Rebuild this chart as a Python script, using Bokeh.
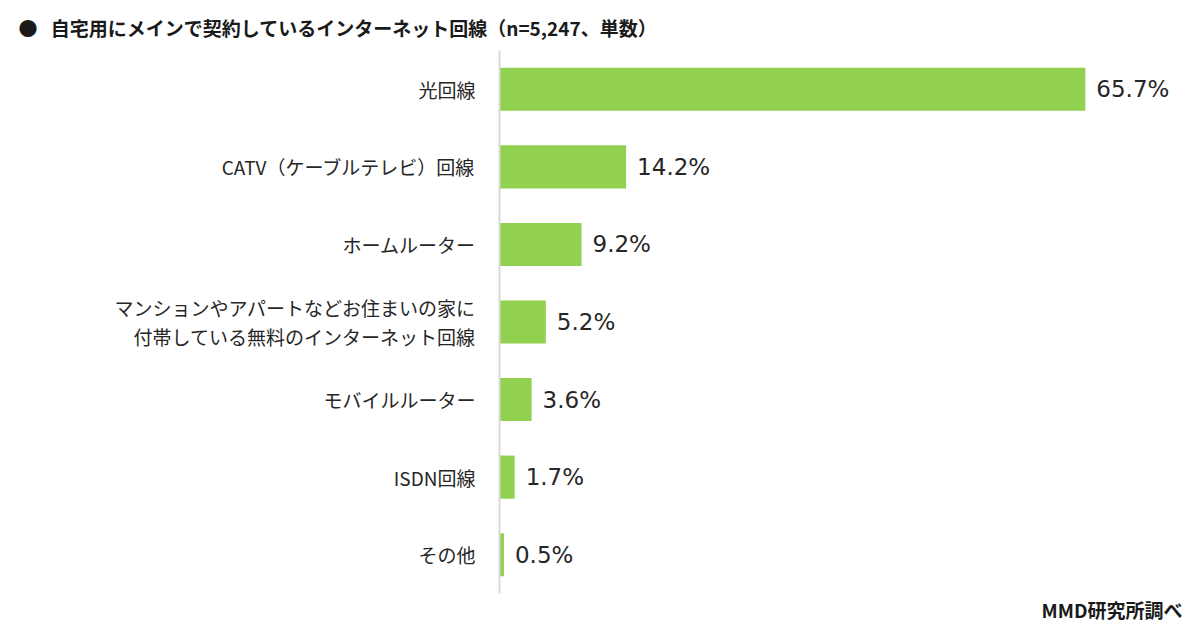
from bokeh.plotting import figure
from bokeh.models import ColumnDataSource, FactorRange, Title
from bokeh.embed import file_html
from bokeh.resources import INLINE
from bokeh.core.properties import value

categories = [
    "光回線",
    "CATV（ケーブルテレビ）回線",
    "ホームルーター",
    "マンションやアパートなどお住まいの家に\n付帯している無料のインターネット回線",
    "モバイルルーター",
    "ISDN回線",
    "その他",
]
values = [65.7, 14.2, 9.2, 5.2, 3.6, 1.7, 0.5]
title_text = "●\u2002\u2009自宅用にメインで契約しているインターネット回線（n=5,247、単数）"
source_text = "MMD研究所調べ"

JP = "Noto Sans CJK JP"
cats_bt = categories[::-1]
vals_bt = values[::-1]
labels_bt = [f"{v}%" for v in vals_bt]

src = ColumnDataSource(dict(cat=cats_bt, val=vals_bt, lab=labels_bt))

FL, FT, FB = 499, 50, 593  # frame left, top, bottom (canvas px)
W, H = 1184, 624

p = figure(width=W, height=H, output_backend="svg", toolbar_location=None,
           y_range=FactorRange(factors=cats_bt, range_padding=0), x_range=(0, 76.6))
p.min_border_left = FL
p.min_border_right = 2
p.min_border_top = FT
p.min_border_bottom = H - FB
p.outline_line_color = None
p.background_fill_color = "white"
p.border_fill_color = "white"
p.xgrid.visible = False
p.ygrid.visible = False
p.xaxis.visible = False

ax = p.yaxis[0]
ax.axis_line_color = "#d9d9d9"
ax.axis_line_width = 2
ax.major_tick_line_color = None
ax.minor_tick_line_color = None
ax.major_label_standoff = 18
ax.major_label_text_font = JP
ax.major_label_text_font_size = "19px"
ax.major_label_text_color = "#262626"
ax.major_label_text_line_height = 1.05

p.hbar(y="cat", right="val", left=0, height=0.555, source=src,
       fill_color="#92d050", line_color=None)

p.text(x="val", y="cat", text="lab", source=src, x_offset=11,
       text_baseline="middle", text_align="left",
       text_font=value("DejaVu Sans"), text_font_size="23px", text_color="#262626")

p.title.text = title_text
p.title.align = "left"
p.title.offset = 18 - FL
p.title.text_font = JP
p.title.text_font_size = "19px"
p.title.text_font_style = "bold"
p.title.text_color = "#1a1a1a"
p.title.standoff = 20

p.add_layout(Title(text=source_text, align="right", vertical_align="bottom", text_font=JP,
                   text_font_size="19px", text_font_style="bold", text_color="#1a1a1a",
                   standoff=0, offset=0), "below")

open("out.html", "w").write(file_html(p, INLINE))
